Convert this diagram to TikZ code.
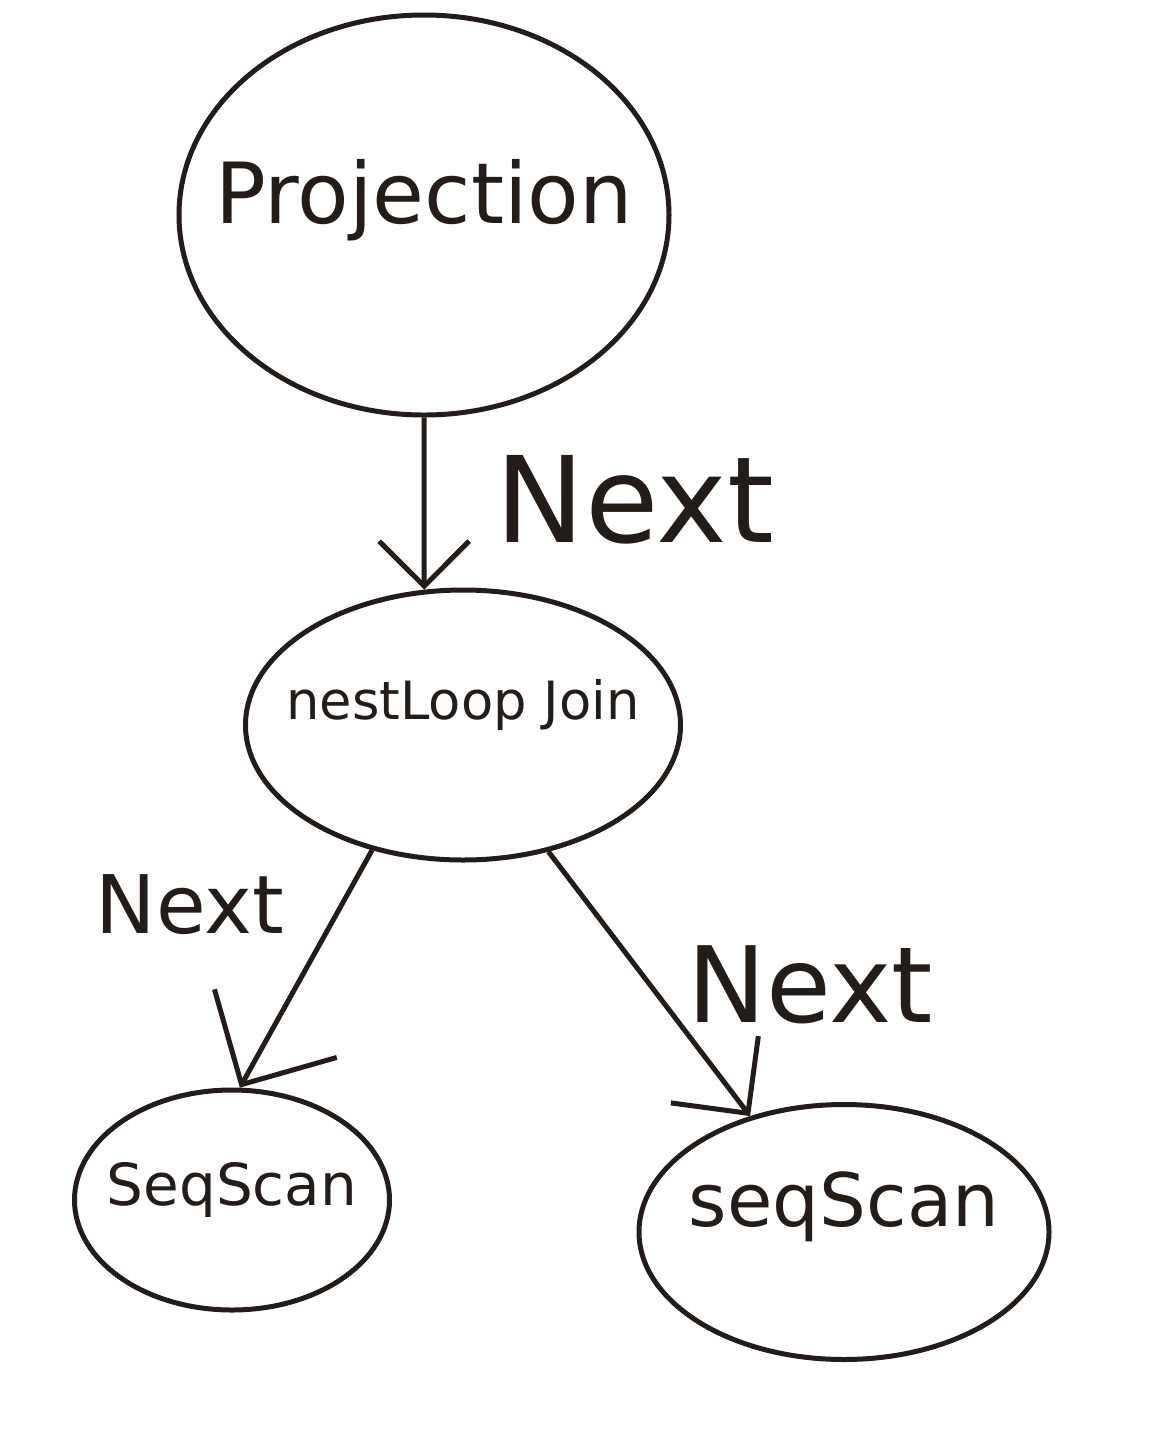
\documentclass[tikz,border=0pt]{standalone}
\usepackage{fontspec}
\setmainfont{DejaVu Sans}
\usetikzlibrary{arrows.meta,shapes.geometric}
\definecolor{ink}{HTML}{231C18}
\tikzset{
  opnode/.style={draw=ink, ellipse, line width=1mm, inner sep=0pt},
  optext/.style={text=ink, inner sep=0pt},
  nextlbl/.style={text=ink, inner sep=0pt},
  arr/.style={-{Straight Barb[length=#1, width=2*#1, line width=1mm]}, line width=1mm, draw=ink},
  arr/.default=5mm
}

\begin{document}
\begin{tikzpicture}[x=0.2mm,y=-0.2mm]
  \useasboundingbox (0,0) rectangle (1151,1449);
  % operator tree
  \node[opnode, minimum width=98mm, minimum height=80mm,
        label={[optext, yshift=3mm, font=\fontsize{48}{56}\selectfont]center:Projection}] (proj) at (424,215) {};
  \node[opnode, minimum width=87mm, minimum height=54mm,
        label={[optext, yshift=4mm, font=\fontsize{30}{36}\selectfont]center:nestLoop Join}] (nlj) at (463,725) {};
  \node[opnode, minimum width=63mm, minimum height=44mm,
        label={[optext, yshift=2mm, font=\fontsize{33}{40}\selectfont]center:SeqScan}] (lscan) at (232,1200) {};
  \node[opnode, minimum width=82mm, minimum height=51mm,
        label={[optext, yshift=5mm, font=\fontsize{42}{50}\selectfont]center:seqScan}] (rscan) at (844,1232) {};
  % calls
  \draw[arr=9mm] (proj.south) -- (nlj.106);
  \draw[arr=14mm] (nlj.234) -- (lscan.86);
  \draw[arr=11mm] (nlj.304) -- (rscan.129);
  \node[nextlbl, font=\fontsize{68}{80}\selectfont] (nxtA) at (635,500) {Next};
  \node[nextlbl, font=\fontsize{46}{54}\selectfont] (nxtB) at (190,905) {Next};
  \node[nextlbl, font=\fontsize{60}{70}\selectfont] (nxtC) at (810,985) {Next};
\end{tikzpicture}
\end{document}
